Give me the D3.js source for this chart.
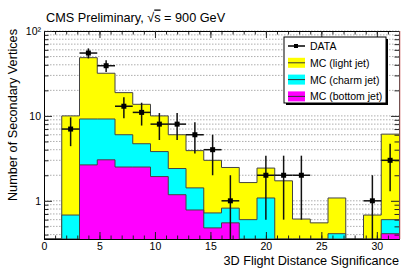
<!DOCTYPE html>
<html>
<head>
<meta charset="utf-8">
<script src="https://cdn.jsdelivr.net/npm/d3@7"></script>
<style>
  body { margin: 0; background: #fff; }
  svg { display: block; font-family: "Liberation Sans", Arial, sans-serif; }
</style>
</head>
<body>
<div id="chart"></div>
<script>
// bins of 3D flight distance significance (lower edges), width 1.6
const binLow = [0, 1.6, 3.2, 4.8, 6.4, 8.0, 9.6, 11.2, 12.8, 14.4, 16.0, 17.6, 19.2, 20.8, 22.4, 24.0, 25.6, 27.2, 28.8, 30.4];
const binWidth = 1.6;

// MC contributions per bin (stacked: bottom, charm, light)
const mcBottom = [0, 0, 2.65, 3.04, 2.5, 2.5, 1.93, 1.18, 0.78, 0.48, 0.55, 0, 0, 0, 0, 0, 0, 0, 0, 0.41];
const mcCharm  = [0, 0.68, 6.55, 6.16, 3.5, 2.2, 1.87, 1.22, 0.64, 0.24, 0.27, 0.6, 1.08, 0, 0, 0, 0.41, 0, 0, 0.19];
const mcLight  = [0, 9.32, 39.3, 22.6, 12.8, 9.0, 6.2, 3.6, 2.48, 2.28, 1.65, 1.04, 1.35, 1.72, 0.61, 0.55, 0.67, 0, 0.68, 5.5];

// data counts and their errors
const dataCounts = [0, 7, 55, 39, 13, 11, 8, 8, 6, 4, 1, 0, 2, 2, 2, 0, 0, 0, 1, 3];
const dataErrors = [0, 2.6, 7.4, 6.2, 3.6, 3.3, 2.8, 2.8, 2.4, 2.0, 1.0, 0, 1.4, 1.4, 1.4, 0, 0, 0, 1.0, 1.7];

const xTicks = [0, 5, 10, 15, 20, 25, 30];
const xMinorTicks = d3.range(0, 33, 1);
const yMajorTicks = [1, 10, 100];

const legendItems = [
  { label: "DATA", type: "data" },
  { label: "MC (light jet)", color: "#ffff00" },
  { label: "MC (charm jet)", color: "#00ffff" },
  { label: "MC (bottom jet)", color: "#ff00ff" }
];

const width = 407, height = 276;
const margin = { top: 31, right: 8, bottom: 37, left: 44 };
const x0 = margin.left, x1 = width - margin.right;
const yTop = margin.top, yBot = height - margin.bottom;

const x = d3.scaleLinear().domain([0, 32]).range([x0, x1]);
const y = d3.scaleLog().domain([0.355, 100]).range([yBot, yTop]);
const yv = v => v > y.domain()[0] ? y(Math.min(v, 100)) : yBot;

const svg = d3.select("#chart").append("svg")
  .attr("width", width)
  .attr("height", height);

svg.append("rect").attr("width", width).attr("height", height).attr("fill", "#fff");

// Title
const title = svg.append("text")
  .attr("x", 46).attr("y", 21.5)
  .attr("font-size", 12.7)
  .attr("fill", "#000");
title.append("tspan").text("CMS Preliminary, √");
title.append("tspan").style("text-decoration", "overline").text("s");
title.append("tspan").text(" = 900 GeV");

// Grid lines (dotted, behind the histograms)
svg.append("g")
  .selectAll("line")
  .data(y.ticks())
  .enter()
  .append("line")
  .attr("x1", x0).attr("x2", x1)
  .attr("y1", d => y(d)).attr("y2", d => y(d))
  .attr("stroke", "#999")
  .attr("stroke-width", 0.8)
  .attr("stroke-dasharray", "1.5,1.5");

// Stacked MC histograms
const rows = binLow.map((b, i) => ({ bottom: mcBottom[i], charm: mcCharm[i], light: mcLight[i] }));
const layers = d3.stack().keys(["bottom", "charm", "light"])(rows);
const colors = { bottom: "#ff00ff", charm: "#00ffff", light: "#ffff00" };

const area = d3.area()
  .x(d => x(d.x))
  .y0(yBot)
  .y1(d => yv(d.top))
  .curve(d3.curveStepAfter);

const line = d3.line()
  .x(d => x(d.x))
  .y(d => yv(d.top))
  .curve(d3.curveStepAfter);

layers.slice().reverse().forEach(layer => {
  const pts = layer.map((d, i) => ({ x: binLow[i], top: d[1] }));
  pts.push({ x: binLow[binLow.length - 1] + binWidth, top: layer[layer.length - 1][1] });
  svg.append("path")
    .attr("d", area(pts))
    .attr("fill", colors[layer.key]);
  svg.append("path")
    .attr("d", line(pts))
    .attr("fill", "none")
    .attr("stroke", "#444")
    .attr("stroke-width", 1);
});

// Axes
const axisG = svg.append("g").attr("class", "axes");

function styleAxis(g, showLabels) {
  g.select(".domain").attr("stroke", "#000");
  g.selectAll(".tick line").attr("stroke", "#222");
  g.selectAll(".tick text")
    .attr("font-size", 10.5)
    .attr("font-family", "Liberation Sans, Arial, sans-serif")
    .attr("fill", "#000");
  if (!showLabels) g.selectAll(".tick text").remove();
}

axisG.append("g")
  .attr("transform", `translate(0,${yBot})`)
  .call(d3.axisBottom(x).tickValues(xMinorTicks).tickSize(-3.5).tickSizeOuter(0).tickFormat(""))
  .call(g => styleAxis(g, false));
axisG.append("g")
  .attr("transform", `translate(0,${yBot})`)
  .call(d3.axisBottom(x).tickValues(xTicks).tickSize(-7).tickSizeOuter(0).tickPadding(4))
  .call(g => styleAxis(g, true));
axisG.append("g")
  .attr("transform", `translate(0,${yTop})`)
  .call(d3.axisTop(x).tickValues(xMinorTicks).tickSize(-3.5).tickSizeOuter(0).tickFormat(""))
  .call(g => styleAxis(g, false));
axisG.append("g")
  .attr("transform", `translate(0,${yTop})`)
  .call(d3.axisTop(x).tickValues(xTicks).tickSize(-7).tickSizeOuter(0).tickFormat(""))
  .call(g => styleAxis(g, false));

const yMinor = y.ticks().filter(d => !yMajorTicks.includes(d));
axisG.append("g")
  .attr("transform", `translate(${x0},0)`)
  .call(d3.axisLeft(y).tickValues(yMinor).tickSize(-4.5).tickSizeOuter(0).tickFormat(""))
  .call(g => styleAxis(g, false));
axisG.append("g")
  .attr("transform", `translate(${x0},0)`)
  .call(d3.axisLeft(y).tickValues(yMajorTicks).tickSize(-8).tickSizeOuter(0).tickPadding(3)
    .tickFormat(d => d === 100 ? "10²" : d))
  .call(g => styleAxis(g, true));
axisG.append("g")
  .attr("transform", `translate(${x1},0)`)
  .call(d3.axisRight(y).tickValues(yMinor).tickSize(-4.5).tickSizeOuter(0).tickFormat(""))
  .call(g => styleAxis(g, false));
axisG.append("g")
  .attr("transform", `translate(${x1},0)`)
  .call(d3.axisRight(y).tickValues(yMajorTicks).tickSize(-8).tickSizeOuter(0).tickFormat(""))
  .call(g => styleAxis(g, false));

// faint reddish edge on the right side of the frame, as in the original
svg.append("line")
  .attr("x1", x1 + 1).attr("x2", x1 + 1)
  .attr("y1", yTop).attr("y2", yBot)
  .attr("stroke", "#e8a0a0").attr("stroke-width", 1);

// Data points with error bars
const dataG = svg.append("g");
dataCounts.forEach((n, i) => {
  if (n <= 0) return;
  const cx = x(binLow[i] + binWidth / 2);
  const cy = y(n);
  dataG.append("line")
    .attr("x1", x(binLow[i])).attr("x2", x(binLow[i] + binWidth))
    .attr("y1", cy).attr("y2", cy)
    .attr("stroke", "#111").attr("stroke-width", 1.5);
  dataG.append("line")
    .attr("x1", cx).attr("x2", cx)
    .attr("y1", yv(n + dataErrors[i])).attr("y2", yv(n - dataErrors[i]))
    .attr("stroke", "#111").attr("stroke-width", 1.5);
  dataG.append("rect")
    .attr("x", cx - 2.5).attr("y", cy - 2.5)
    .attr("width", 5).attr("height", 5)
    .attr("fill", "#000");
});

// Axis titles
svg.append("text")
  .attr("x", x1).attr("y", 265)
  .attr("text-anchor", "end")
  .attr("font-size", 12.7)
  .text("3D Flight Distance Significance");

svg.append("text")
  .attr("transform", `translate(16.5,${yTop - 2}) rotate(-90)`)
  .attr("text-anchor", "end")
  .attr("font-size", 12.7)
  .text("Number of Secondary Vertices");

// Legend
const lg = svg.append("g");
const lx = 284, ly = 37, lw = 102, lh = 66;
lg.append("rect").attr("x", lx + 2).attr("y", ly + 2).attr("width", lw).attr("height", lh).attr("fill", "#000");
lg.append("rect").attr("x", lx).attr("y", ly).attr("width", lw).attr("height", lh)
  .attr("fill", "#fff").attr("stroke", "#000").attr("stroke-width", 1);

legendItems.forEach((d, i) => {
  const cy = ly + 9 + i * 16.8;
  if (d.type === "data") {
    lg.append("line").attr("x1", 288).attr("x2", 305).attr("y1", cy).attr("y2", cy)
      .attr("stroke", "#000").attr("stroke-width", 1.5);
    lg.append("rect").attr("x", 294).attr("y", cy - 2).attr("width", 4).attr("height", 4).attr("fill", "#000");
  } else {
    lg.append("rect").attr("x", 288).attr("y", cy - 5).attr("width", 17).attr("height", 10)
      .attr("fill", d.color);
    lg.append("line").attr("x1", 288).attr("x2", 305).attr("y1", cy).attr("y2", cy)
      .attr("stroke", "#333").attr("stroke-width", 1);
  }
  lg.append("text")
    .attr("x", 310).attr("y", cy + 4)
    .attr("font-size", 10.5)
    .text(d.label);
});
</script>
</body>
</html>
